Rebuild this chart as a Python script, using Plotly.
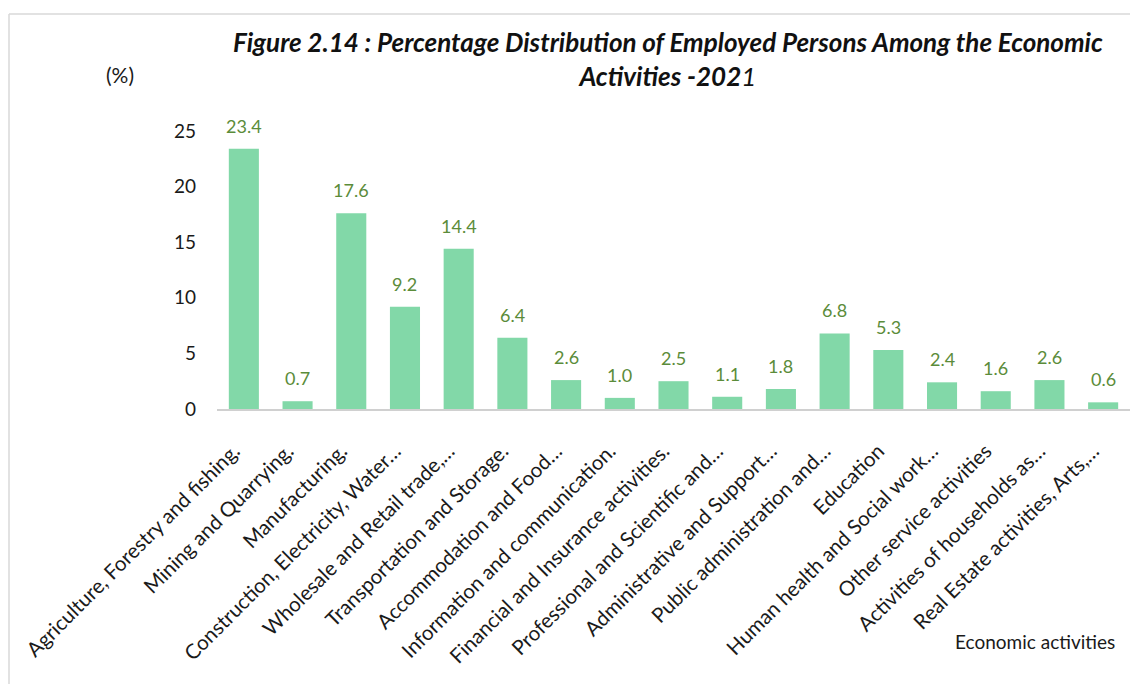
import plotly.graph_objects as go

categories = [
    "Agriculture, Forestry and fishing.",
    "Mining and Quarrying.",
    "Manufacturing.",
    "Construction, Electricity, Water…",
    "Wholesale and Retail trade,…",
    "Transportation and Storage.",
    "Accommodation and Food…",
    "Information and communication.",
    "Financial and Insurance activities.",
    "Professional and Scientific and…",
    "Administrative and Support…",
    "Public administration and…",
    "Education",
    "Human health and Social work…",
    "Other service activities",
    "Activities of households as…",
    "Real Estate activities, Arts,…",
]
values = [23.4, 0.7, 17.6, 9.2, 14.4, 6.4, 2.6, 1.0, 2.5, 1.1, 1.8, 6.8, 5.3, 2.4, 1.6, 2.6, 0.6]
y_ticks = [0, 5, 10, 15, 20, 25]

W, H = 1131, 684
L, R, T, B = 217, 1, 131, 275
pw = W - L - R
ph = H - T - B

def px(x):
    return (x - L) / pw

def py(y):
    return (H - B - y) / ph

FONT = "Lato"

fig = go.Figure(
    go.Bar(
        x=categories,
        y=values,
        marker=dict(color="#82D8A8", line=dict(width=0)),
        width=0.56,
    )
)

# data labels above bars
for c, v in zip(categories, values):
    fig.add_annotation(
        x=c, y=v, xref="x", yref="y",
        text=f"{v:.1f}", showarrow=False,
        xanchor="center", yanchor="middle", yshift=23,
        font=dict(family=FONT, size=18, color="#5B8C3A"),
    )

fig.update_layout(
    width=W,
    height=H,
    margin=dict(l=L, r=R, t=T, b=B),
    paper_bgcolor="white",
    plot_bgcolor="white",
    showlegend=False,
    font=dict(family=FONT, color="#1a1a1a"),
)
fig.update_xaxes(
    automargin=False,
    tickangle=-45,
    tickfont=dict(family=FONT, size=20.5, color="#1a1a1a"),
    showline=True,
    linecolor="#d0d0d0",
    linewidth=2,
    showgrid=False,
    ticks="",
    ticklabelstandoff=20,
    ticklabelshift=-10,
)
fig.update_yaxes(
    automargin=False,
    range=[0, 25],
    tickvals=y_ticks,
    tickfont=dict(family=FONT, size=19, color="#1a1a1a"),
    showline=False,
    showgrid=False,
    zeroline=False,
    ticks="",
    ticklabelstandoff=20,
)

fig.add_annotation(
    x=px(668), y=py(59), xref="paper", yref="paper",
    text="<b><i>Figure 2.14 : Percentage Distribution of Employed Persons Among the Economic<br>Activities -202</i></b><i>1</i>",
    showarrow=False, xanchor="center", yanchor="middle",
    font=dict(family=FONT, size=26, color="#111111"),
)
fig.add_annotation(
    x=px(120), y=py(75), xref="paper", yref="paper",
    text="(%)", showarrow=False, xanchor="center", yanchor="middle",
    font=dict(family=FONT, size=21, color="#1a1a1a"),
)
fig.add_annotation(
    x=px(1117), y=py(641), xref="paper", yref="paper",
    text="Economic activities", showarrow=False, xanchor="right", yanchor="middle",
    font=dict(family=FONT, size=19, color="#1a1a1a"),
)

# chart frame
fig.add_shape(type="line", xref="paper", yref="paper",
              x0=px(9), y0=py(14), x1=px(9), y1=py(H + 5),
              line=dict(color="#d9d9d9", width=1.5))
fig.add_shape(type="line", xref="paper", yref="paper",
              x0=px(9), y0=py(14), x1=px(1130), y1=py(14),
              line=dict(color="#d9d9d9", width=1.5))

fig.write_html(
    "out.html",
    config={"displayModeBar": False},
    post_script="document.body.style.margin='0';document.body.style.overflow='hidden';",
)
